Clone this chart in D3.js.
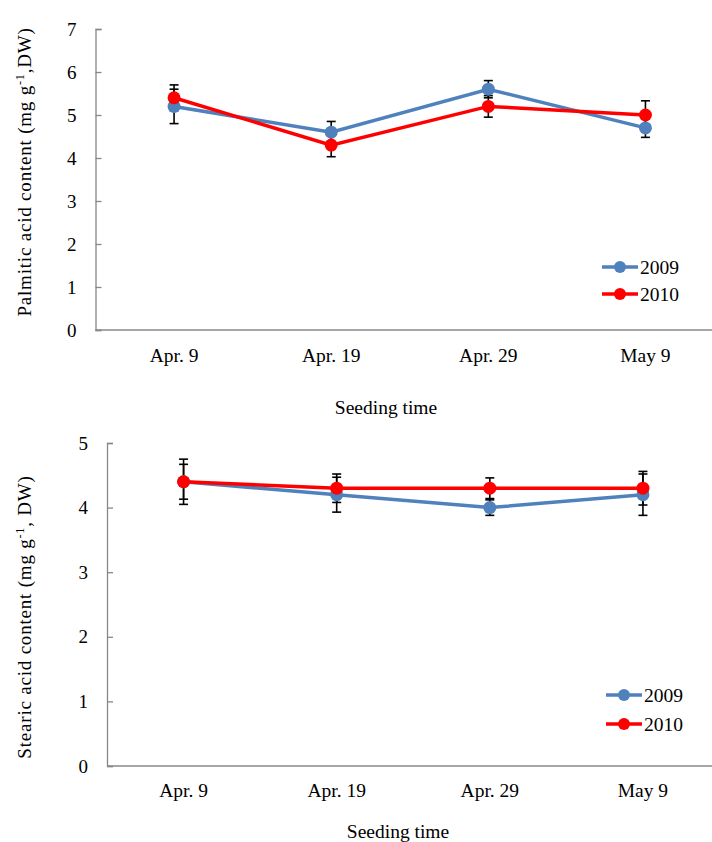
<!DOCTYPE html>
<html>
<head>
<meta charset="utf-8">
<script src="https://cdn.jsdelivr.net/npm/d3@7"></script>
<style>
  body { margin: 0; background: #fff; }
  svg { display: block; }
  text { font-family: "Liberation Serif", "Times New Roman", serif; fill: #000; }
</style>
</head>
<body>
<svg id="chart" width="712" height="842"></svg>
<script>
// Seeding dates shared by both panels
const categories = ["Apr. 9", "Apr. 19", "Apr. 29", "May 9"];
const seriesNames = ["2009", "2010"];

// Palmitic acid content (mg g-1, DW)
const palmitic2009 = [5.2, 4.6, 5.6, 4.7];
const palmitic2010 = [5.4, 4.3, 5.2, 5.0];
const palmiticErr2009 = [0.4, 0.25, 0.2, 0.22];
const palmiticErr2010 = [0.3, 0.27, 0.25, 0.33];
const palmiticTicks = [0, 1, 2, 3, 4, 5, 6, 7];

// Stearic acid content (mg g-1, DW)
const stearic2009 = [4.4, 4.2, 4.0, 4.2];
const stearic2010 = [4.4, 4.3, 4.3, 4.3];
const stearicErr2009 = [0.27, 0.27, 0.12, 0.32];
const stearicErr2010 = [0.35, 0.22, 0.16, 0.26];
const stearicTicks = [0, 1, 2, 3, 4, 5];

const colors = { "2009": "#4F81BD", "2010": "#FF0000" };

const svg = d3.select("#chart");

function drawPanel(cfg) {
  const g = svg.append("g");
  const x = d3.scaleBand().domain(categories).range([cfg.left, cfg.right]);
  const y = d3.scaleLinear().domain([0, cfg.ymax]).range([cfg.bottom, cfg.top]);
  const cx = c => x(c) + x.bandwidth() / 2;

  // y axis with inward ticks
  const yAxis = g.append("g")
    .attr("transform", `translate(${cfg.left},0)`)
    .call(d3.axisLeft(y).tickValues(cfg.ticks).tickSize(-6).tickPadding(19).tickFormat(d3.format("d")));
  yAxis.select(".domain").attr("stroke", "#888").attr("stroke-width", 1.3);
  yAxis.selectAll(".tick line").attr("stroke", "#888").attr("stroke-width", 1.3);
  yAxis.selectAll(".tick text").attr("font-size", 19).attr("font-family", "Liberation Serif");

  // x axis (category labels, no tick marks)
  const xAxis = g.append("g")
    .attr("transform", `translate(0,${cfg.bottom})`)
    .call(d3.axisBottom(x).tickSize(0).tickPadding(cfg.xPad));
  xAxis.select(".domain").attr("stroke", "#888").attr("stroke-width", 1.3)
    .attr("d", `M${cfg.left},0H712`);
  xAxis.selectAll(".tick text").attr("font-size", 19.5).attr("font-family", "Liberation Serif");

  // axis titles
  g.append("text")
    .attr("x", cfg.xTitleX).attr("y", cfg.xTitleY)
    .attr("text-anchor", "middle").attr("font-size", 19.5)
    .text("Seeding time");

  const yt = g.append("text")
    .attr("transform", `translate(${cfg.yTitleX},${cfg.yTitleY}) rotate(-90)`)
    .attr("text-anchor", "middle").attr("font-size", 19)
    .attr("letter-spacing", 0.8);
  yt.append("tspan").text(cfg.yTitle + " (mg g");
  yt.append("tspan").attr("dy", -7).attr("font-size", 12).text("-1");
  yt.append("tspan").attr("dy", 7).text(cfg.ySep + "DW)");

  const series = [
    { name: "2009", values: cfg.s2009, err: cfg.e2009 },
    { name: "2010", values: cfg.s2010, err: cfg.e2010 }
  ];
  const line = d3.line().x((d, i) => cx(categories[i])).y(d => y(d));

  series.forEach(s => {
    g.append("path")
      .datum(s.values)
      .attr("fill", "none")
      .attr("stroke", colors[s.name])
      .attr("stroke-width", 3.5)
      .attr("d", line);
  });

  // error bars
  series.forEach(s => {
    const eb = g.append("g").attr("stroke", "#000").attr("stroke-width", 1.6);
    s.values.forEach((v, i) => {
      const px = cx(categories[i]);
      const hi = y(v + s.err[i]), lo = y(v - s.err[i]);
      eb.append("line").attr("x1", px).attr("x2", px).attr("y1", hi).attr("y2", lo);
      eb.append("line").attr("x1", px - 4.5).attr("x2", px + 4.5).attr("y1", hi).attr("y2", hi);
      eb.append("line").attr("x1", px - 4.5).attr("x2", px + 4.5).attr("y1", lo).attr("y2", lo);
    });
  });

  // markers
  series.forEach(s => {
    g.append("g").selectAll("circle")
      .data(s.values)
      .join("circle")
      .attr("cx", (d, i) => cx(categories[i]))
      .attr("cy", d => y(d))
      .attr("r", 6.5)
      .attr("fill", colors[s.name]);
  });

  // legend
  seriesNames.forEach((name, i) => {
    const ly = cfg.legendY + i * cfg.legendGap;
    const lg = g.append("g");
    lg.append("line")
      .attr("x1", cfg.legendX).attr("x2", cfg.legendX + 36)
      .attr("y1", ly).attr("y2", ly)
      .attr("stroke", colors[name]).attr("stroke-width", 3.5);
    lg.append("circle").attr("cx", cfg.legendX + 18).attr("cy", ly).attr("r", 6).attr("fill", colors[name]);
    lg.append("text")
      .attr("x", cfg.legendX + 38).attr("y", ly)
      .attr("dy", "0.35em").attr("font-size", 19.5)
      .text(name);
  });
}

drawPanel({
  left: 95.5, right: 724, top: 29, bottom: 330, ymax: 7, ticks: palmiticTicks,
  s2009: palmitic2009, s2010: palmitic2010, e2009: palmiticErr2009, e2010: palmiticErr2010,
  xPad: 18, xTitleX: 386, xTitleY: 414,
  yTitle: "Palmitic acid content", ySep: ",", yTitleX: 31, yTitleY: 172,
  legendX: 602, legendY: 267, legendGap: 27
});

drawPanel({
  left: 107, right: 719.5, top: 443, bottom: 766, ymax: 5, ticks: stearicTicks,
  s2009: stearic2009, s2010: stearic2010, e2009: stearicErr2009, e2010: stearicErr2010,
  xPad: 17, xTitleX: 398, xTitleY: 838,
  yTitle: "Stearic acid content", ySep: ", ", yTitleX: 31, yTitleY: 617,
  legendX: 606, legendY: 695, legendGap: 29
});
</script>
</body>
</html>
